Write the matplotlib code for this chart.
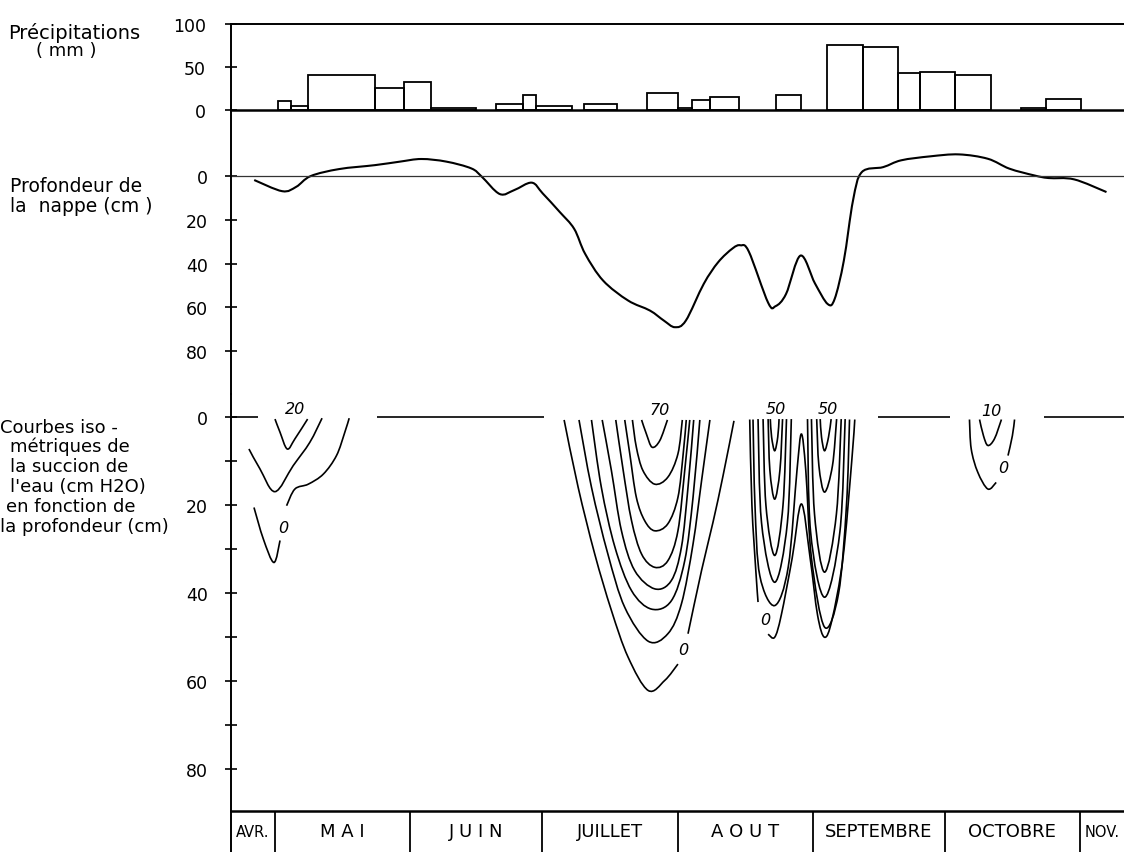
import numpy as np
import matplotlib
matplotlib.use("Agg")
import matplotlib.pyplot as plt
from matplotlib.path import Path
from matplotlib.patches import PathPatch

plt.rcParams.update({"font.family": "DejaVu Sans", "font.size": 12.5})

# axe x : jours depuis le 1er avril (21 avril -> 20)
month_edges = [20, 30, 61, 91, 122, 153, 183, 214, 224]
month_names = ["AVR.", "M A I", "J U I N", "JUILLET", "A O U T", "SEPTEMBRE", "OCTOBRE", "NOV."]

# précipitations (mm) par période
rain_start = [30.7, 33.8, 37.65, 52.8, 59.6, 65.7, 80.6, 86.7, 89.6, 100.75, 115.0, 122.2,
              125.3, 129.5, 144.4, 156.2, 164.3, 172.35, 177.5, 185.5, 200.5, 206.2]
rain_end = [33.8, 37.65, 52.8, 59.6, 65.7, 75.9, 86.7, 89.6, 97.8, 108.1, 122.2, 125.3,
            129.5, 136.1, 150.3, 164.3, 172.35, 177.5, 185.5, 193.7, 206.2, 214.2]
rain_mm = [10.2, 4.4, 40.5, 25.0, 32.3, 1.5, 6.0, 17.0, 4.5, 6.5, 19.5, 2.0,
           11.5, 15.0, 16.8, 75.5, 72.5, 42.0, 43.8, 40.3, 1.5, 12.0]

# profondeur de la nappe (cm)
nappe_day = [25.3, 31.7, 34.9, 38.2, 44.7, 52.9, 58.6, 63.5, 69.2, 74.9, 77.3, 81.4, 84.7,
             88.7, 91.2, 95.1, 98.4, 100.9, 105.0, 110.7, 115.7, 118.9, 121.4, 123.9, 128.0,
             131.3, 134.6, 136.4, 138.3, 142.7, 144.4, 146.8, 150.1, 153.4, 156.3, 157.9, 160.0,
             162.1, 164.1, 169.0, 173.1, 179.7, 186.3, 192.9, 197.8, 203.5, 206.8, 212.6, 220.0]
nappe_cm = [1.8, 6.9, 4.9, 0.0, -3.2, -5.0, -6.6, -7.8, -6.6, -3.5, 0.3, 8.2, 6.4,
            3.0, 7.9, 16.4, 24.1, 35.5, 47.7, 56.8, 61.4, 66.0, 69.0, 66.0, 49.2,
            39.3, 33.0, 31.6, 34.5, 57.8, 59.4, 53.8, 36.3, 49.0, 58.4, 56.1, 38.6,
            11.1, -1.8, -4.1, -7.2, -9.0, -9.9, -7.9, -3.4, -0.3, 0.9, 1.5, 7.3]

# courbes isométriques de succion (jour, profondeur cm)
avril_mai = [
    [(30.05, 0.4), (31.2, 3.4), (32.85, 7.2), (34.6, 4.9), (37.5, 0.4)],                      # 20
    [(24.1, 7.2), (26.6, 11.7), (30.05, 16.9), (34.2, 11.0), (38.0, 5.7), (40.8, 0.2)],        # 10
    [(25.25, 20.5), (27.4, 27.7), (29.8, 33.0), (31.2, 28.0)],                                  # 0
    [(32.7, 20.1), (34.6, 16.3), (37.65, 15.2), (41.1, 12.9), (44.1, 8.7), (46.0, 3.4), (47.0, 0.2)],
]
juillet = [
    [(113.8, 0.6), (114.9, 3.8), (116.2, 6.8), (117.95, 5.3), (119.7, 0.6)],                  # 70
    [(111.7, 0.6), (112.6, 6.8), (114.1, 12.1), (116.8, 15.2), (119.8, 13.6), (122.1, 8.3), (123.1, 0.6)],
    [(109.95, 0.6), (111.1, 8.3), (112.6, 18.2), (114.5, 23.5), (116.8, 25.8), (119.8, 24.2),
     (122.1, 18.2), (123.3, 8.3), (124.0, 0.6)],
    [(107.9, 0.6), (109.6, 12.1), (111.5, 23.5), (113.8, 31.1), (116.8, 34.1), (119.8, 32.6),
     (122.1, 25.8), (123.65, 12.1), (124.8, 0.6)],
    [(104.8, 0.6), (106.9, 12.1), (109.2, 25.8), (112.2, 34.8), (116.8, 39.0), (120.6, 37.1),
     (122.9, 29.5), (124.4, 15.9), (125.7, 0.6)],
    [(102.35, 0.6), (104.6, 15.9), (107.7, 29.5), (111.5, 39.4), (116.05, 43.6), (120.6, 41.7),
     (123.65, 32.6), (125.55, 18.2), (127.1, 0.6)],
    [(99.5, 0.6), (102.35, 15.9), (106.1, 31.1), (109.95, 43.2), (115.3, 50.9), (119.8, 49.2),
     (122.9, 42.4), (125.55, 28.8), (127.5, 14.4), (129.4, 0.6)],
    [(96.1, 0.6), (99.3, 15.9), (103.1, 31.1), (106.9, 43.9), (110.7, 54.5), (115.3, 62.1),
     (119.1, 59.8), (122.1, 56.1)],                                                             # 0
    [(124.4, 49.2), (127.5, 34.8), (130.1, 23.9), (132.4, 13.3), (134.9, 0.8)],
]
aout_sept = [
    [(143.2, 0.4), (143.5, 4.5), (144.2, 7.6), (144.9, 4.5), (145.2, 0.4)],                    # 50
    [(142.7, 0.4), (143.1, 12.0), (144.2, 18.6), (145.4, 12.0), (146.0, 0.4)],
    [(141.55, 0.4), (142.2, 20.0), (144.2, 31.4), (146.1, 20.0), (146.9, 0.4)],
    [(140.4, 0.4), (141.2, 24.0), (144.2, 37.5), (147.1, 24.0), (148.0, 0.4)],
    [(154.6, 0.4), (154.9, 4.5), (155.6, 7.6), (156.5, 4.5), (157.1, 0.4)],                    # 50
    [(153.8, 0.4), (154.3, 11.0), (155.6, 17.0), (157.4, 11.0), (158.35, 0.4)],
    [(152.6, 0.4), (153.3, 22.0), (155.6, 35.2), (158.3, 22.0), (159.4, 0.4)],
    [(151.7, 0.4), (152.4, 26.0), (155.6, 40.9), (159.1, 26.0), (160.3, 0.4)],
    [(139.25, 0.5), (139.7, 20.0), (140.8, 36.0), (144.2, 42.8), (147.3, 34.0), (149.3, 12.0),
     (150.3, 3.8), (151.3, 12.0), (152.6, 32.0), (155.6, 47.7), (158.8, 40.0), (160.6, 20.0), (161.3, 0.5)],
    [(138.5, 0.5), (139.0, 20.0), (139.9, 35.0), (140.4, 42.0)],                                # 0
    [(142.7, 49.3), (144.2, 50.0), (145.7, 45.0), (148.2, 32.0), (150.3, 19.7), (152.3, 32.0),
     (154.0, 45.0), (155.6, 50.0), (157.3, 46.0), (159.8, 32.0), (161.8, 10.0), (162.5, 0.5)],
]
octobre = [
    [(191.0, 0.5), (191.9, 4.2), (192.9, 6.4), (194.4, 4.9), (196.0, 0.5)],                    # 10
    [(188.7, 0.5), (189.1, 7.2), (190.6, 12.5), (192.9, 16.3), (194.8, 14.8)],                 # 0
    [(197.5, 8.7), (198.5, 4.2), (199.0, 0.5)],
]
iso_labels = [(34.6, -2.0, "20"), (31.9, 25.0, "0"), (117.95, -1.8, "70"), (123.3, 52.7, "0"),
              (144.5, -1.9, "50"), (156.3, -1.9, "50"), (142.0, 46.0, "0"),
              (193.7, -1.6, "10"), (196.5, 11.4, "0")]
zero_segments = [(20, 26.2), (53.3, 91.5), (167.7, 184.2), (205.7, 224)]


def smooth_path(pts):
    p = np.asarray(pts, float)
    ext = np.vstack([p[0], p, p[-1]])
    verts, codes = [p[0]], [Path.MOVETO]
    for i in range(1, len(ext) - 2):
        p0, p1, p2, p3 = ext[i - 1], ext[i], ext[i + 1], ext[i + 2]
        verts += [p1 + (p2 - p0) / 6, p2 - (p3 - p1) / 6, p2]
        codes += [Path.CURVE4] * 3
    return Path(verts, codes)


W, H, X0 = 1124, 853, 231
fig = plt.figure(figsize=(W / 100, H / 100), dpi=100)


def panel(top, bottom):
    ax = fig.add_axes([X0 / W, 1 - bottom / H, (W - X0) / W, (bottom - top) / H])
    ax.set_xlim(month_edges[0], month_edges[-1])
    ax.set_xticks([])
    ax.patch.set_alpha(0)
    for s in ["top", "right", "bottom"]:
        ax.spines[s].set_visible(False)
    ax.spines["left"].set_linewidth(1.4)
    ax.tick_params(axis="y", direction="inout", length=8, width=1.2, pad=12.5, labelsize=12.5)
    return ax


ax_p = panel(24.5, 110.5)
ax_w = panel(110.5, 395)
ax_c = panel(395, 812)
ax_m = panel(812, 853)

# précipitations
ax_p.bar(rain_start, rain_mm, width=np.array(rain_end) - np.array(rain_start), align="edge",
         fill=False, edgecolor="black", linewidth=1.3)
ax_p.set_ylim(0, 100)
ax_p.set_yticks([0, 50, 100])
ax_p.tick_params(axis="y", pad=14)
ax_p.spines["top"].set_visible(True)
ax_p.spines["bottom"].set_visible(True)
ax_p.spines["top"].set_linewidth(1.4)
ax_p.spines["bottom"].set_linewidth(1.8)

# nappe
ax_w.axhline(0, color="#333333", lw=0.9)
ax_w.add_patch(PathPatch(smooth_path(list(zip(nappe_day, nappe_cm))), fill=False, ec="black", lw=1.5))
ax_w.set_ylim(99.5, -30.4)
ax_w.set_yticks([0, 20, 40, 60, 80])

# succion
for a, b in zero_segments:
    ax_c.plot([a, b], [0, 0], color="black", lw=1.2, solid_capstyle="butt")
for group in (avril_mai, juillet, aout_sept, octobre):
    for curve in group:
        ax_c.add_patch(PathPatch(smooth_path(curve), fill=False, ec="black", lw=1.2))
for x, y, s in iso_labels:
    ax_c.text(x, y, s, ha="center", va="center", style="italic", fontsize=11.5)
ax_c.set_ylim(89.5, -5.3)
ax_c.set_yticks([0, 20, 40, 60, 80])
ax_c.set_yticks([10, 30, 50, 70], minor=True)
ax_c.tick_params(axis="y", which="minor", direction="inout", length=8, width=1.2)

# mois
ax_m.set_ylim(0, 1)
ax_m.set_yticks([])
ax_m.spines["top"].set_visible(True)
ax_m.spines["top"].set_linewidth(1.8)
for e in month_edges[1:-1]:
    ax_m.axvline(e, color="black", lw=1.3)
for i, name in enumerate(month_names):
    fs = 10.5 if name.endswith(".") else 13
    ax_m.text((month_edges[i] + month_edges[i + 1]) / 2, 0.5, name, ha="center", va="center", fontsize=fs)

# libellés à gauche
def ftext(x, y, s, fs=13):
    fig.text(x / W, 1 - y / H, s, ha="left", va="center", fontsize=fs)

ftext(8, 33, "Précipitations", 14)
ftext(36, 51, "( mm )")
ftext(10, 187, "Profondeur de", 13.5)
ftext(10, 206, "la  nappe (cm )", 13.5)
ftext(0, 428, "Courbes iso -")
ftext(10, 447, "métriques de")
ftext(10, 467, "la succion de")
ftext(10, 487, "l'eau (cm H2O)")
ftext(6, 507, "en fonction de")
ftext(0, 527, "la profondeur (cm)")

fig.savefig("out.png", dpi=100)
